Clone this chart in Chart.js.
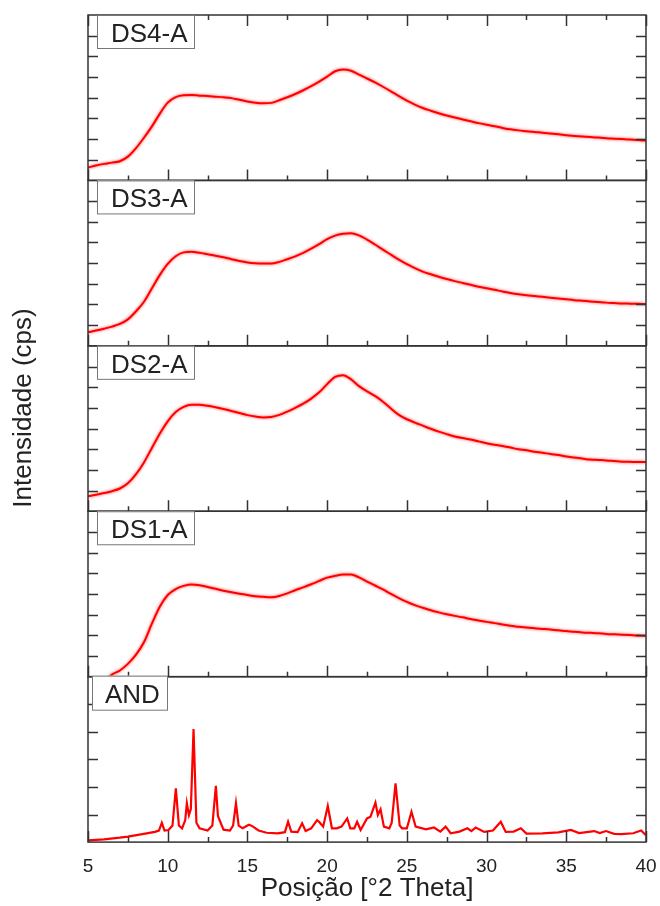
<!DOCTYPE html>
<html>
<head>
<meta charset="utf-8">
<title>Difratogramas DS-A / AND</title>
<script src="https://cdn.jsdelivr.net/npm/chart.js@4/dist/chart.umd.min.js"></script>
<style>
  html, body { margin: 0; padding: 0; background: #fff; }
  #wrap { width: 660px; height: 906px; position: relative; }
</style>
</head>
<body>
<div id="wrap"><canvas id="xrd"></canvas></div>
<script>
// 2θ grid shared by the four amorphous dispersions (degrees)
var twoTheta = [
  5.0, 5.5, 6.0, 6.5, 7.0, 7.5, 8.0, 8.5, 9.0, 9.5,
  10.0, 10.5, 11.0, 11.5, 12.0, 12.5, 13.0, 13.5, 14.0, 14.5,
  15.0, 15.5, 16.0, 16.5, 17.0, 17.5, 18.0, 18.5, 19.0, 19.5,
  20.0, 20.5, 21.0, 21.5, 22.0, 22.5, 23.0, 23.5, 24.0, 24.5,
  25.0, 25.5, 26.0, 26.5, 27.0, 27.5, 28.0, 28.5, 29.0, 29.5,
  30.0, 30.5, 31.0, 31.5, 32.0, 32.5, 33.0, 33.5, 34.0, 34.5,
  35.0, 35.5, 36.0, 36.5, 37.0, 37.5, 38.0, 38.5, 39.0, 39.5,
  40.0
];

// intensities, in tick divisions of each panel (arbitrary cps)
var ds4 = [
  0.62, 0.72, 0.80, 0.86, 0.93, 1.15, 1.55, 2.05, 2.60, 3.22,
  3.76, 4.03, 4.12, 4.13, 4.10, 4.08, 4.05, 4.02, 3.98, 3.90,
  3.82, 3.76, 3.73, 3.75, 3.88, 4.02, 4.18, 4.36, 4.56, 4.78,
  5.02, 5.28, 5.36, 5.30, 5.12, 4.93, 4.74, 4.53, 4.31, 4.08,
  3.86, 3.67, 3.50, 3.37, 3.25, 3.14, 3.04, 2.95, 2.86, 2.77,
  2.69, 2.62, 2.54, 2.47, 2.42, 2.38, 2.34, 2.31, 2.27, 2.23,
  2.19, 2.15, 2.12, 2.10, 2.07, 2.04, 2.02, 2.00, 1.98, 1.95,
  1.93
];
var ds3 = [
  0.66, 0.74, 0.83, 0.93, 1.06, 1.28, 1.66, 2.12, 2.77, 3.42,
  3.96, 4.33, 4.52, 4.55, 4.50, 4.43, 4.36, 4.28, 4.19, 4.10,
  4.03, 3.99, 3.98, 3.98, 4.06, 4.19, 4.33, 4.50, 4.70, 4.92,
  5.16, 5.33, 5.42, 5.45, 5.34, 5.14, 4.90, 4.65, 4.41, 4.17,
  3.95, 3.76, 3.59, 3.46, 3.34, 3.23, 3.13, 3.04, 2.95, 2.86,
  2.78, 2.71, 2.63, 2.56, 2.50, 2.45, 2.41, 2.37, 2.33, 2.29,
  2.25, 2.21, 2.18, 2.15, 2.12, 2.09, 2.07, 2.05, 2.04, 2.03,
  2.02
];
var ds2 = [
  0.72, 0.80, 0.88, 0.97, 1.10, 1.35, 1.78, 2.35, 3.05, 3.75,
  4.35, 4.80, 5.05, 5.15, 5.15, 5.10, 5.03, 4.95, 4.85, 4.75,
  4.65, 4.58, 4.54, 4.56, 4.66, 4.82, 5.00, 5.20, 5.45, 5.75,
  6.15, 6.50, 6.58, 6.38, 6.05, 5.80, 5.58, 5.30, 4.97, 4.66,
  4.45, 4.29, 4.14, 3.99, 3.85, 3.73, 3.62, 3.54, 3.47, 3.38,
  3.29, 3.22, 3.16, 3.08, 3.00, 2.95, 2.88, 2.83, 2.77, 2.72,
  2.65, 2.60, 2.55, 2.50, 2.48, 2.46, 2.43, 2.40, 2.39, 2.38,
  2.38
];
var ds1 = [
  -0.90, -0.60, -0.30, 0.10, 0.30, 0.62, 1.05, 1.65, 2.55, 3.38,
  3.95, 4.24, 4.39, 4.46, 4.42, 4.34, 4.25, 4.16, 4.08, 4.01,
  3.95, 3.89, 3.86, 3.84, 3.90, 4.03, 4.18, 4.32, 4.47, 4.63,
  4.79, 4.88, 4.94, 4.94, 4.80, 4.60, 4.41, 4.22, 4.00, 3.80,
  3.62, 3.46, 3.33, 3.21, 3.11, 3.02, 2.94, 2.87, 2.79, 2.72,
  2.65, 2.59, 2.52, 2.46, 2.42, 2.38, 2.34, 2.31, 2.28, 2.24,
  2.21, 2.17, 2.14, 2.12, 2.10, 2.07, 2.05, 2.03, 2.01, 1.99,
  1.98
];

// crystalline drug (AND): peak positions and heights
var andTheta = [
  5.0, 6.0, 7.0, 7.5, 8.5, 9.2, 9.45, 9.63, 9.8, 10.05,
  10.3, 10.51, 10.7, 10.9, 11.1, 11.2, 11.33, 11.45, 11.62, 11.8,
  12.0, 12.5, 12.8, 13.02, 13.15, 13.25, 13.5, 13.9, 14.1, 14.28,
  14.45, 14.7, 15.0, 15.1, 15.3, 15.7, 16.2, 16.9, 17.35, 17.55,
  17.75, 18.15, 18.43, 18.65, 19.0, 19.37, 19.52, 19.75, 20.04, 20.3,
  20.6, 20.9, 21.26, 21.45, 21.7, 21.88, 22.1, 22.5, 22.72, 23.03,
  23.18, 23.35, 23.56, 23.9, 24.05, 24.29, 24.55, 24.7, 25.0, 25.29,
  25.55, 26.2, 26.7, 27.1, 27.43, 27.75, 28.3, 28.8, 29.05, 29.32,
  29.85, 30.4, 30.89, 31.2, 31.7, 32.15, 32.5, 33.5, 34.5, 35.29,
  35.8, 36.75, 37.1, 37.49, 38.0, 38.43, 39.2, 39.69, 40.0
];
var andCounts = [
  0.06, 0.10, 0.16, 0.20, 0.30, 0.37, 0.42, 0.70, 0.42, 0.44,
  0.60, 1.95, 0.60, 0.50, 0.80, 1.41, 0.98, 1.20, 4.10, 0.70,
  0.50, 0.42, 0.60, 2.04, 0.95, 0.80, 0.45, 0.42, 0.60, 1.41,
  0.60, 0.50, 0.60, 0.63, 0.58, 0.42, 0.34, 0.32, 0.36, 0.74,
  0.38, 0.36, 0.68, 0.40, 0.50, 0.80, 0.72, 0.56, 1.31, 0.50,
  0.50, 0.56, 0.86, 0.50, 0.50, 0.74, 0.44, 0.86, 0.92, 1.43,
  0.98, 1.19, 0.56, 0.50, 0.70, 2.13, 0.60, 0.50, 0.50, 1.10,
  0.56, 0.46, 0.53, 0.38, 0.56, 0.32, 0.38, 0.50, 0.40, 0.53,
  0.37, 0.42, 0.74, 0.37, 0.38, 0.50, 0.31, 0.32, 0.35, 0.44,
  0.33, 0.40, 0.33, 0.40, 0.30, 0.29, 0.32, 0.42, 0.25
];

// panels from top to bottom
var panelNames = ['DS4-A', 'DS3-A', 'DS2-A', 'DS1-A', 'AND'];
var panelAxes = ['yDS4', 'yDS3', 'yDS2', 'yDS1', 'yAND'];
var panelDivisions = [8, 8, 8, 8, 6];

var FONT = '"Liberation Sans", Arial, sans-serif';
var RED = '#ff0000';
var INK = '#222';

Chart.defaults.font.family = FONT;
Chart.defaults.color = INK;

function toPoints(xs, ys) {
  return xs.map(function (x, i) { return { x: x, y: ys[i] }; });
}

function panelAxis(divisions) {
  return {
    type: 'linear',
    position: 'left',
    stack: 'xrd',
    stackWeight: 1,
    min: 0,
    max: divisions,
    ticks: { display: false },
    grid: { display: false, drawTicks: false },
    border: { display: false }
  };
}

// clip each curve to its own panel, then draw frames, inward ticks and labels
var panelFrames = {
  id: 'panelFrames',
  beforeDatasetDraw: function (chart, args) {
    var ys = chart.scales[args.meta.yAxisID];
    var a = chart.chartArea;
    var ctx = chart.ctx;
    ctx.save();
    ctx.beginPath();
    ctx.rect(a.left, ys.top, a.right - a.left, ys.bottom - ys.top);
    ctx.clip();
    // the measured patterns are noisy: give the trace a soft red fringe
    if (args.meta.yAxisID !== 'yAND') {
      ctx.shadowColor = 'rgba(255, 0, 0, 0.7)';
      ctx.shadowBlur = 3;
    }
  },
  afterDatasetDraw: function (chart) {
    chart.ctx.restore();
  },
  afterDatasetsDraw: function (chart) {
    var ctx = chart.ctx;
    var a = chart.chartArea;
    var xs = chart.scales.x;

    ctx.save();
    ctx.strokeStyle = '#333';
    ctx.lineWidth = 1.5;

    panelAxes.forEach(function (id, i) {
      var ys = chart.scales[id];
      ctx.strokeRect(a.left, ys.top, a.right - a.left, ys.bottom - ys.top);

      ctx.beginPath();
      // x ticks: major every 5°, minor every 2.5°
      for (var v = xs.min; v <= xs.max + 0.01; v += 2.5) {
        var px = Math.round(xs.getPixelForValue(v)) + 0.5;
        var len = (v % 5 === 0) ? 11 : 5;
        ctx.moveTo(px, ys.bottom);
        ctx.lineTo(px, ys.bottom - len);
        if (i === 0) {
          ctx.moveTo(px, ys.top);
          ctx.lineTo(px, ys.top + len);
        }
      }
      // y ticks on both sides
      for (var k = 1; k < panelDivisions[i]; k++) {
        var py = Math.round(ys.getPixelForValue(k)) + 0.5;
        ctx.moveTo(a.left, py);
        ctx.lineTo(a.left + 10, py);
        ctx.moveTo(a.right, py);
        ctx.lineTo(a.right - 10, py);
      }
      ctx.stroke();

      // sample label box
      var isDrug = panelNames[i] === 'AND';
      var bx = a.left + (isDrug ? 4 : 9);
      var bw = isDrug ? 75 : 97;
      var bh = isDrug ? 34 : 33;
      var by = ys.top + (isDrug ? -1 : 0);
      ctx.fillStyle = '#fff';
      ctx.fillRect(bx, by, bw, bh);
      ctx.lineWidth = 1;
      ctx.strokeStyle = '#777';
      ctx.strokeRect(bx + 0.5, by + 0.5, bw, bh);
      ctx.fillStyle = INK;
      ctx.font = '26px ' + FONT;
      ctx.textAlign = 'left';
      ctx.textBaseline = 'alphabetic';
      ctx.fillText(panelNames[i], bx + (isDrug ? 13 : 14), by + 27);
      ctx.lineWidth = 1.5;
      ctx.strokeStyle = '#333';
    });

    // shared intensity title
    ctx.translate(24, 408);
    ctx.rotate(-Math.PI / 2);
    ctx.fillStyle = INK;
    ctx.font = '26px ' + FONT;
    ctx.textAlign = 'center';
    ctx.textBaseline = 'middle';
    ctx.fillText('Intensidade (cps)', 0, 0);
    ctx.restore();
  }
};

function curve(label, xs, ys, axis, width, smooth) {
  var ds = {
    label: label,
    data: toPoints(xs, ys),
    yAxisID: axis,
    borderColor: RED,
    borderWidth: width,
    pointRadius: 0,
    fill: false
  };
  if (smooth) {
    ds.cubicInterpolationMode = 'monotone';
  } else {
    ds.tension = 0;
  }
  return ds;
}

var scales = {
  x: {
    type: 'linear',
    position: 'bottom',
    min: 5,
    max: 40,
    // small tick padding keeps the "40" label from squeezing the plot;
    // the tall line height moves the labels down instead
    ticks: { stepSize: 5, padding: 3, font: { size: 19, lineHeight: 2.3 }, color: INK },
    grid: { display: false, drawTicks: false },
    border: { display: false },
    title: {
      display: true,
      text: 'Posição [°2 Theta]',
      font: { size: 26 },
      color: INK,
      padding: { top: -19, bottom: 2 }
    }
  }
};
// stacked axes are placed top-down in reverse order, so add the bottom panel first
for (var i = panelAxes.length - 1; i >= 0; i--) {
  scales[panelAxes[i]] = panelAxis(panelDivisions[i]);
}

new Chart(document.getElementById('xrd').getContext('2d'), {
  type: 'line',
  data: {
    datasets: [
      curve('DS4-A', twoTheta, ds4, 'yDS4', 2, true),
      curve('DS3-A', twoTheta, ds3, 'yDS3', 2, true),
      curve('DS2-A', twoTheta, ds2, 'yDS2', 2, true),
      curve('DS1-A', twoTheta, ds1, 'yDS1', 2, true),
      curve('AND', andTheta, andCounts, 'yAND', 2.2, false)
    ]
  },
  options: {
    responsive: true,
    maintainAspectRatio: false,
    animation: false,
    layout: { padding: { left: 88, right: 14, top: 15, bottom: 0 } },
    plugins: {
      legend: { display: false },
      tooltip: { enabled: false }
    },
    scales: scales
  },
  plugins: [panelFrames]
});
</script>
</body>
</html>
